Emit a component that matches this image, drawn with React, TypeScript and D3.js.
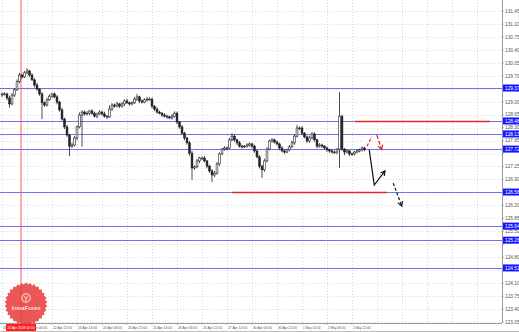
import React from "react";
import * as d3 from "d3";

const W = 519;
const H = 332;

// Candle closes (one hourly bar each)
const closes = [
  129.21, 129.21, 129.10, 128.94, 129.18, 129.32, 129.54, 129.72, 129.67, 129.78,
  129.83, 129.72, 129.59, 129.45, 129.34, 129.21, 128.97, 128.91, 129.05, 129.15,
  129.21, 129.13, 128.99, 128.78, 128.53, 128.32, 128.10, 127.80, 127.83, 128.02,
  128.32, 128.64, 128.72, 128.67, 128.69, 128.75, 128.69, 128.61, 128.67, 128.72,
  128.67, 128.61, 128.59, 128.80, 128.91, 128.88, 128.94, 128.88, 128.94, 129.02,
  128.97, 128.94, 128.97, 129.07, 129.13, 129.02, 128.99, 129.05, 129.07, 129.07,
  128.88, 128.80, 128.72, 128.69, 128.64, 128.61, 128.59, 128.56, 128.61, 128.69,
  128.45, 128.32, 128.15, 128.02, 127.89, 127.61, 127.21, 127.24, 127.40, 127.48,
  127.48, 127.40, 127.26, 127.13, 127.02, 127.07, 127.32, 127.59, 127.72, 127.75,
  127.75, 127.97, 128.07, 127.97, 127.89, 127.80, 127.78, 127.80, 127.83, 127.86,
  127.80, 127.67, 127.51, 127.26, 127.16, 127.40, 127.72, 127.94, 127.97, 127.91,
  127.86, 127.75, 127.67, 127.64, 127.70, 127.78, 127.89, 128.07, 128.29, 128.29,
  128.15, 128.05, 127.94, 128.02, 128.13, 127.97, 127.80, 127.83, 127.80, 127.75,
  127.70, 127.67, 127.64, 127.64, 127.72, 128.61, 127.72, 127.64, 127.67, 127.59,
  127.59, 127.64, 127.67, 127.70, 127.75, 127.70,
];
const firstOpen = 129.18;
// upper / lower wick lengths in pips (0.01)
const wickHi = [
  4, 5, 3, 6, 5, 4, 6, 6, 4, 5, 8, 3, 5, 4, 6, 3, 5, 4, 6, 5,
  3, 4, 5, 3, 6, 4, 5, 3, 6, 5, 4, 7, 5, 4, 6, 3, 5, 4, 3, 5,
  4, 6, 3, 10, 5, 4, 6, 3, 5, 4, 6, 3, 4, 6, 8, 3, 5, 4, 6, 5,
  4, 3, 5, 4, 3, 5, 4, 3, 6, 5, 4, 3, 5, 4, 3, 5, 6, 4, 5, 3,
  4, 5, 3, 4, 5, 6, 5, 4, 3, 5, 4, 5, 8, 4, 3, 5, 4, 3, 5, 4,
  3, 4, 3, 5, 4, 6, 5, 4, 5, 3, 4, 3, 5, 4, 3, 5, 6, 5, 8, 4,
  5, 3, 4, 6, 5, 4, 3, 5, 4, 3, 4, 3, 5, 4, 3, 65, 4, 3, 5, 3,
  4, 3, 4, 3, 4, 3,
];
const wickLo = [
  5, 4, 6, 10, 4, 5, 3, 4, 6, 3, 4, 5, 3, 6, 4, 5, 44, 5, 4, 3,
  5, 4, 6, 5, 4, 6, 5, 27, 5, 4, 6, 4, 86, 5, 4, 6, 5, 4, 6, 3,
  5, 4, 6, 3, 5, 4, 3, 5, 4, 6, 3, 5, 4, 3, 5, 6, 4, 3, 5, 4,
  6, 5, 4, 3, 5, 4, 6, 3, 5, 4, 6, 5, 4, 6, 5, 7, 32, 5, 4, 6,
  5, 4, 6, 5, 19, 6, 4, 5, 3, 4, 6, 3, 4, 5, 6, 4, 5, 3, 4, 5,
  6, 5, 4, 6, 22, 5, 4, 3, 5, 4, 5, 6, 4, 5, 3, 4, 3, 5, 4, 6,
  5, 4, 6, 5, 3, 5, 6, 4, 5, 4, 6, 5, 4, 5, 6, 51, 5, 8, 4, 6,
  5, 4, 3, 4, 5, 4,
];

// Price axis labels
const priceTicks = [
  131.45, 131.10, 130.75, 130.40, 130.05, 129.70, 129.35, 129.00, 128.65, 128.30,
  127.95, 127.60, 127.25, 126.90, 126.55, 126.20, 125.85, 125.50, 125.15, 124.80,
  124.45, 124.10, 123.75, 123.40, 123.05,
];
// Time axis labels (bar index, text)
const timeTickIdx = [0, 10, 20, 30, 40, 50, 60, 70, 80, 90, 100, 110, 120, 130, 140];
const timeTickText = [
  "19 Apr 14:00", "20 Apr 06:00", "22 Apr 22:00", "23 Apr 14:00", "24 Apr 06:00",
  "24 Apr 22:00", "25 Apr 14:00", "26 Apr 06:00", "26 Apr 22:00", "27 Apr 14:00",
  "30 Apr 06:00", "30 Apr 22:00", "1 May 14:00", "2 May 06:00", "2 May 22:00",
];
const gridIdx = d3.range(0, 200, 10);

// Horizontal levels (blue)
const levels = [129.37, 128.48, 128.13, 127.72, 126.56, 125.64, 125.26, 124.51];
// Red segments: [startIdx, endIdx, price]
const redSegStart = [141.2, 92];
const redSegEnd = [195.2, 154];
const redSegPrice = [128.48, 126.56];
const vLineIdx = 7.6;
const vLineLabel = "20 Apr 2018 02:00";

// Annotation arrows (bar index, price)
const redDash: [number, number][] = [[146, 127.8], [147.9, 128.05]];
const redArrow: [number, number][] = [[149.9, 128.1], [151.9, 127.71]];
const blackPath: [number, number][] = [[146.9, 127.7], [148.9, 126.75], [153.2, 127.13]];
const blackDash: [number, number][] = [[156.5, 126.8], [159.9, 126.18]];

const x = d3.scaleLinear().domain([0, 145]).range([2, 364.5]);
const y = d3.scaleLinear().domain([123.05, 131.45]).range([322, 11]);

const PLOT_R = 502;
const PLOT_B = 323;

function arrowHead(pts: [number, number][], color: string, key: string) {
  const n = pts.length;
  const [x1, y1] = [x(pts[n - 2][0]), y(pts[n - 2][1])];
  const [x2, y2] = [x(pts[n - 1][0]), y(pts[n - 1][1])];
  const a = Math.atan2(y2 - y1, x2 - x1);
  const L = 5;
  const p1 = [x2 - L * Math.cos(a - 0.5), y2 - L * Math.sin(a - 0.5)];
  const p2 = [x2 - L * Math.cos(a + 0.5), y2 - L * Math.sin(a + 0.5)];
  return (
    <polyline
      key={key}
      points={`${p1[0]},${p1[1]} ${x2},${y2} ${p2[0]},${p2[1]}`}
      fill="none"
      stroke={color}
      strokeWidth={1.2}
    />
  );
}

function gearPath(cx: number, cy: number, r1: number, r2: number, teeth: number) {
  const pts: [number, number][] = [];
  for (let k = 0; k < teeth * 2; k++) {
    const ang = (Math.PI * k) / teeth;
    const r = k % 2 === 0 ? r2 : r1;
    pts.push([ang, r]);
  }
  const line = d3.lineRadial().curve(d3.curveLinearClosed);
  return { d: line(pts) as string, cx, cy };
}

export default function App() {
  const line = d3
    .line<[number, number]>()
    .x((d) => x(d[0]))
    .y((d) => y(d[1]));
  const gear = gearPath(26, 304, 19.5, 21.5, 30);
  const font = "'Liberation Sans', Arial, sans-serif";
  const levelYs = levels.map((p) => y(p));
  const shownTicks = priceTicks.filter((p) => levelYs.every((ly) => Math.abs(ly - y(p)) > 5));

  return (
    <svg
      width={W}
      height={H}
      style={{ position: "absolute", left: 0, top: 0, background: "#fff" }}
      fontFamily={font}
    >
      <rect x={0} y={0} width={W} height={H} fill="#fff" />
      {/* grid */}
      {priceTicks.map((p, i) => (
        <line
          key={"hg" + i}
          x1={0}
          x2={PLOT_R}
          y1={Math.round(y(p)) + 0.5}
          y2={Math.round(y(p)) + 0.5}
          stroke="#cfcfcf"
          strokeWidth={0.8}
          strokeDasharray="1,2"
        />
      ))}
      {gridIdx.map((g, i) => (
        <line
          key={"vg" + i}
          x1={Math.round(x(g)) + 0.5}
          x2={Math.round(x(g)) + 0.5}
          y1={0}
          y2={PLOT_B}
          stroke="#cfcfcf"
          strokeWidth={0.8}
          strokeDasharray="1,2"
        />
      ))}
      {/* red vertical line */}
      <line x1={x(vLineIdx)} x2={x(vLineIdx)} y1={0} y2={PLOT_B} stroke="#ff5a5a" strokeWidth={1} />
      {/* blue levels */}
      {levels.map((p, i) => (
        <line
          key={"lv" + i}
          x1={0}
          x2={PLOT_R}
          y1={Math.round(y(p)) + 0.5}
          y2={Math.round(y(p)) + 0.5}
          stroke="#7070f0"
          strokeWidth={1}
        />
      ))}
      {/* red segments */}
      {redSegPrice.map((p, i) => (
        <line
          key={"rs" + i}
          x1={x(redSegStart[i])}
          x2={x(redSegEnd[i])}
          y1={Math.round(y(p)) + 0.5}
          y2={Math.round(y(p)) + 0.5}
          stroke="#e02a2a"
          strokeWidth={1.3}
        />
      ))}
      {/* candles */}
      {closes.map((c, i) => {
        const o = i === 0 ? firstOpen : closes[i - 1];
        const top = Math.max(o, c);
        const bot = Math.min(o, c);
        const hi = top + wickHi[i] / 100;
        const lo = bot - wickLo[i] / 100;
        const cx = x(i);
        const bull = c >= o;
        const bh = Math.max(0.8, y(bot) - y(top));
        return (
          <g key={"c" + i}>
            <line x1={cx} x2={cx} y1={y(hi)} y2={y(lo)} stroke="#222" strokeWidth={0.8} />
            <rect
              x={cx - 0.9}
              y={y(top)}
              width={1.8}
              height={bh}
              fill={bull ? "#fff" : "#222"}
              stroke="#222"
              strokeWidth={0.6}
            />
          </g>
        );
      })}
      {/* annotations */}
      <path d={line(redDash) as string} fill="none" stroke="#e52222" strokeWidth={1.2} strokeDasharray="3,2" />
      <path d={line(redArrow) as string} fill="none" stroke="#e52222" strokeWidth={1.2} strokeDasharray="4,2" />
      {arrowHead(redArrow, "#e52222", "ra")}
      <path d={line(blackPath) as string} fill="none" stroke="#111" strokeWidth={1.2} />
      {arrowHead(blackPath, "#111", "ba")}
      <path d={line(blackDash) as string} fill="none" stroke="#111" strokeWidth={1.2} strokeDasharray="3,2" />
      {arrowHead(blackDash, "#111", "bd")}

      {/* axes */}
      <line x1={PLOT_R + 0.5} x2={PLOT_R + 0.5} y1={0} y2={PLOT_B} stroke="#9a9a9a" strokeWidth={1} />
      <line x1={0} x2={PLOT_R} y1={PLOT_B + 0.5} y2={PLOT_B + 0.5} stroke="#9a9a9a" strokeWidth={1} />
      <line x1={0} x2={W} y1={H - 0.5} y2={H - 0.5} stroke="#bbb" strokeWidth={1} />
      {priceTicks.map((p, i) => (
        <line key={"ptk" + i} x1={PLOT_R} x2={PLOT_R + 2} y1={y(p)} y2={y(p)} stroke="#999" strokeWidth={0.6} />
      ))}
      {shownTicks.map((p, i) => (
        <text key={"pt" + i} x={505} y={y(p) + 1.8} fontSize={4.8} fill="#555">
          {p.toFixed(2)}
        </text>
      ))}
      {levels.map((p, i) => (
        <g key={"lb" + i}>
          <rect x={PLOT_R + 1} y={y(p) - 3.5} width={16} height={7} fill="#1515ff" />
          <text x={505} y={y(p) + 1.8} fontSize={4.8} fill="#fff">
            {p.toFixed(2)}
          </text>
        </g>
      ))}
      {timeTickIdx.map((t, i) => (
        <g key={"tt" + i}>
          <line x1={x(t)} x2={x(t)} y1={PLOT_B} y2={PLOT_B + 2} stroke="#999" strokeWidth={0.6} />
          <text
            x={x(t) + 1}
            y={329}
            fontSize={4.3}
            fill="#555"
            textLength={timeTickText[i].length > 11 ? 19 : 17.5}
            lengthAdjust="spacingAndGlyphs"
          >
            {timeTickText[i]}
          </text>
        </g>
      ))}
      {/* red time label box */}
      <rect x={x(vLineIdx) - 15} y={324} width={30} height={7} fill="#ff1f1f" />
      <text
        x={x(vLineIdx) - 13.5}
        y={329.3}
        fontSize={4.3}
        fill="#fff"
        textLength={27}
        lengthAdjust="spacingAndGlyphs"
      >
        {vLineLabel}
      </text>
      {/* InstaForex badge */}
      <g transform={`translate(${gear.cx},${gear.cy})`} opacity={0.85}>
        <path d={gear.d} fill="#e83a3a" />
        <circle cx={0} cy={-6} r={4.2} fill="none" stroke="#fff" strokeWidth={0.9} />
        <path d="M-2,-8 L0,-5.5 L2,-8 M0,-5.5 L0,-2.5" stroke="#fff" strokeWidth={0.8} fill="none" />
        <text x={0} y={6} fontSize={6.2} fill="#fff" textAnchor="middle">
          InstaForex
        </text>
      </g>
    </svg>
  );
}
